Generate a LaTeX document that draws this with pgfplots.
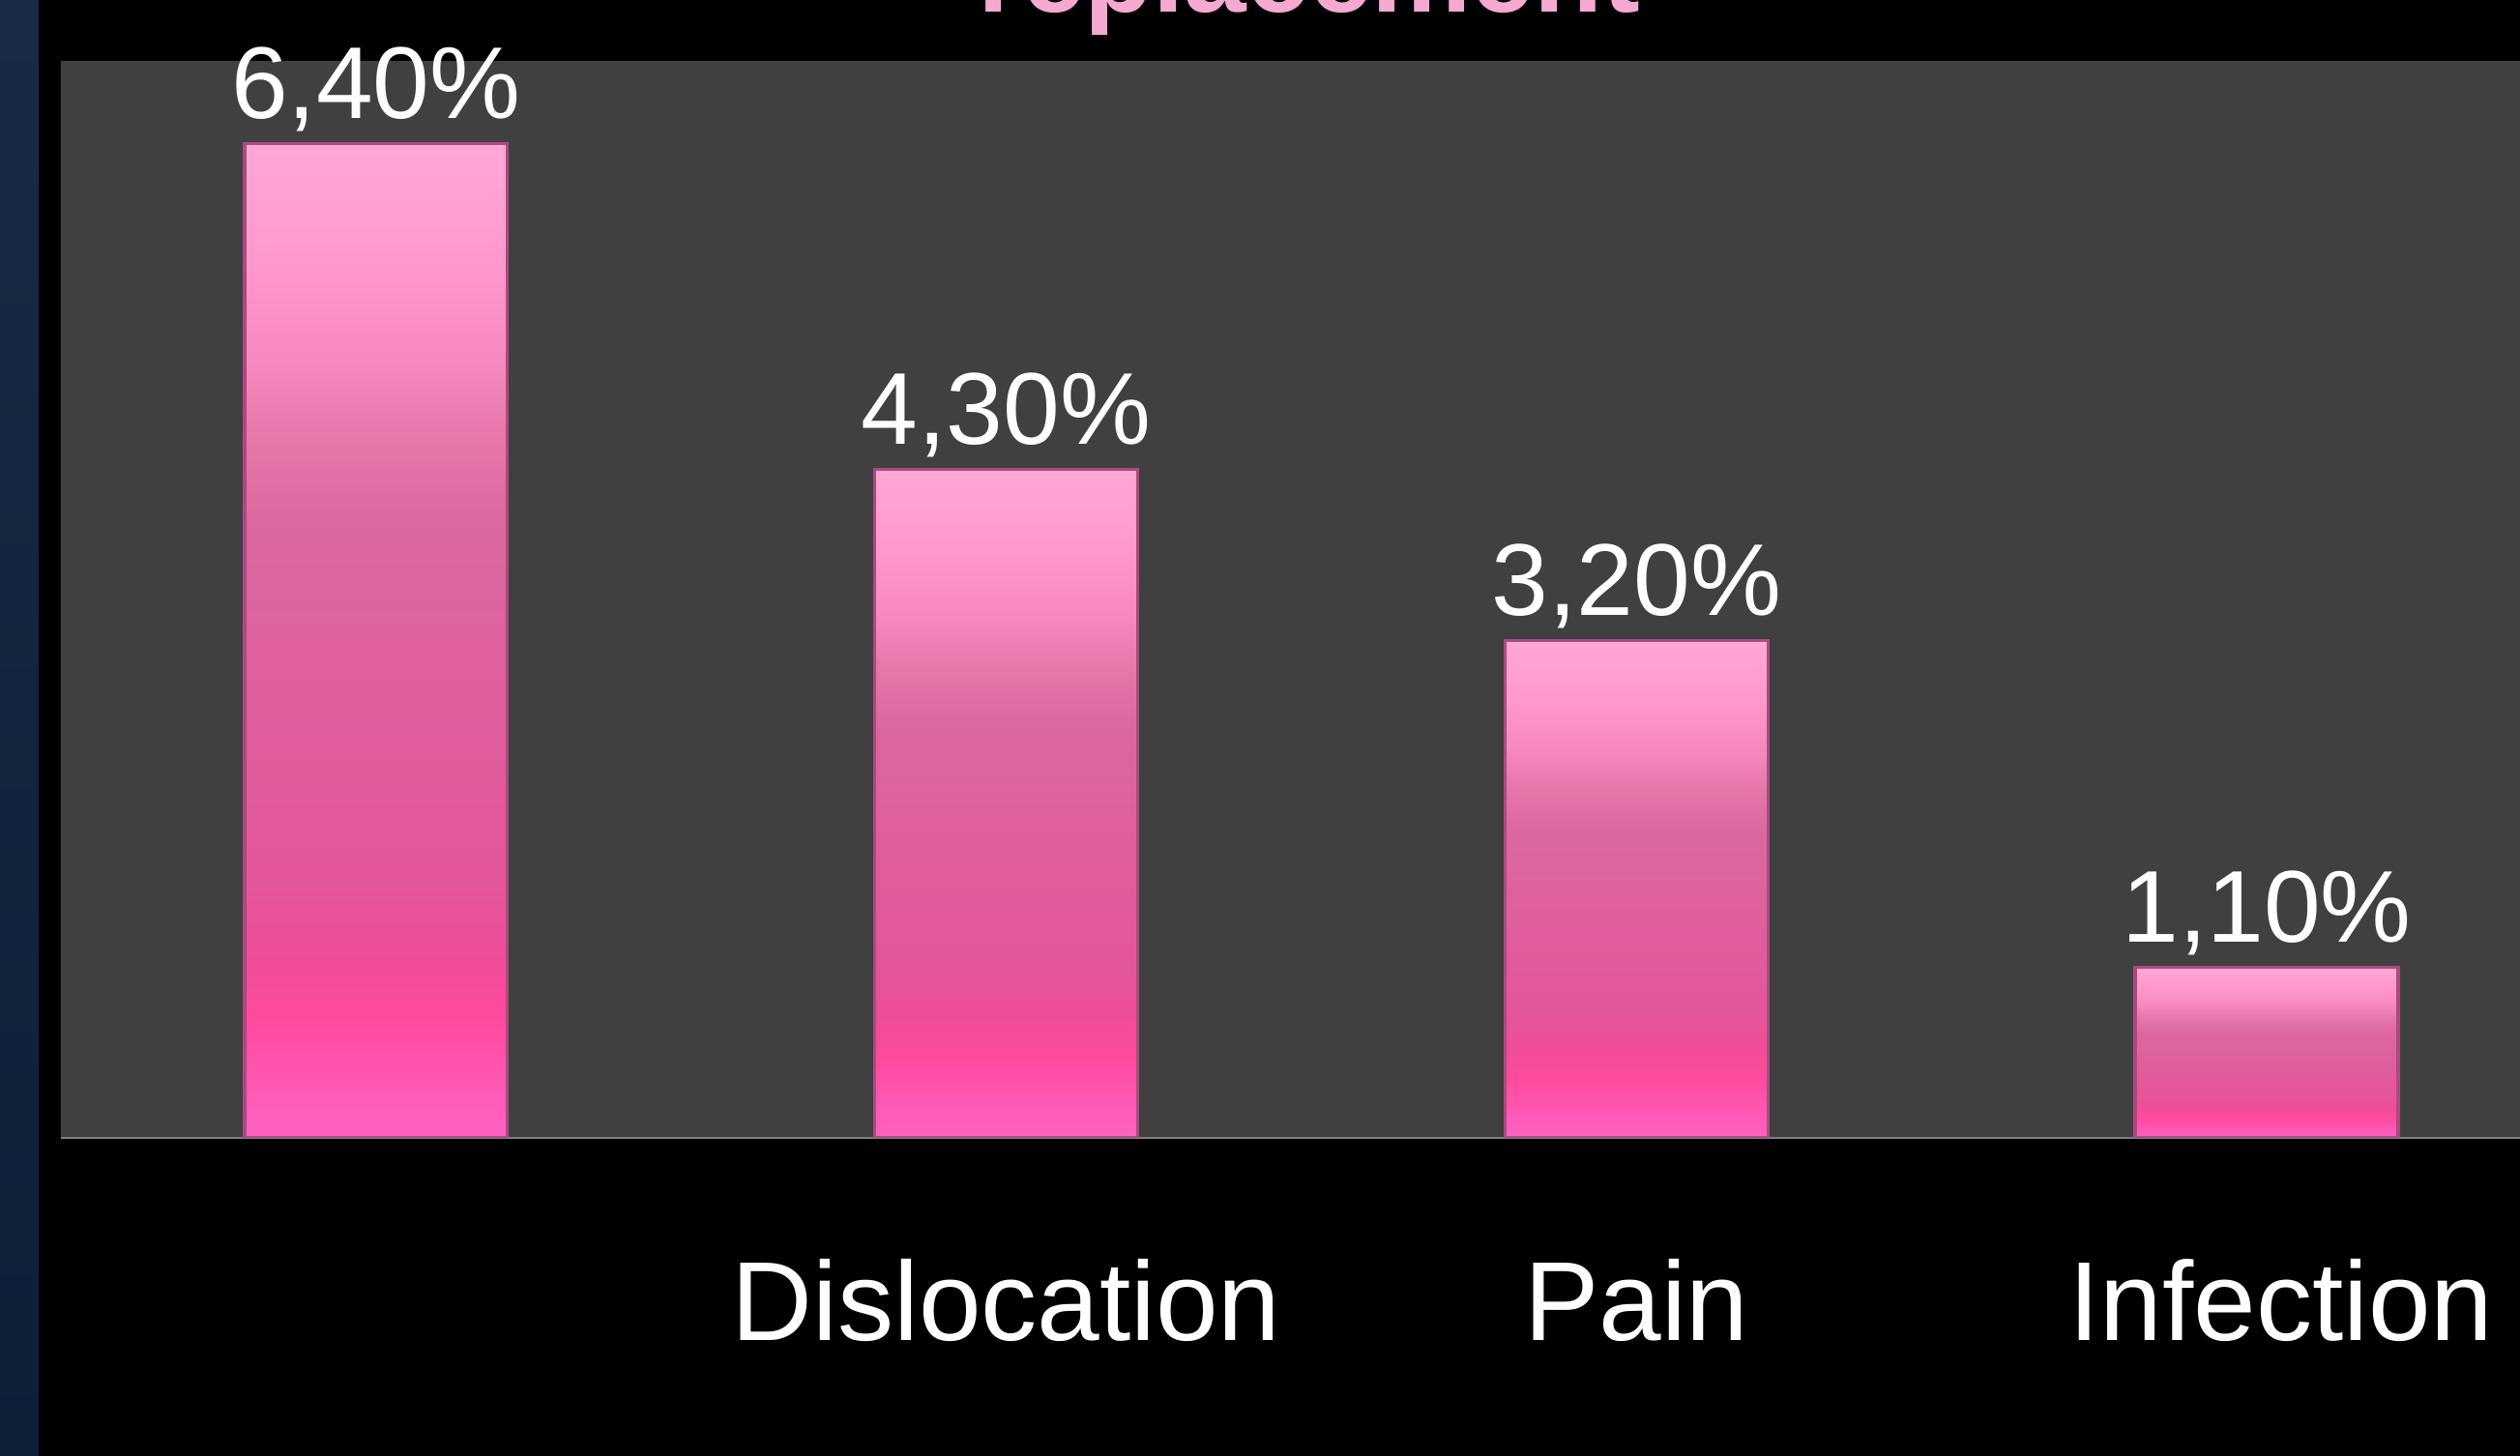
\documentclass[border=0pt]{standalone}
\usepackage{pgfplots}
\pgfplotsset{compat=1.18}
\usepackage{fontspec}
\setmainfont{Liberation Sans}
\definecolor{plotgray}{RGB}{64,64,64}
\definecolor{axisgray}{RGB}{128,128,128}
\definecolor{navytop}{RGB}{27,42,68}
\definecolor{navybot}{RGB}{15,30,55}
\definecolor{titlepink}{RGB}{245,168,208}
\definecolor{baredge}{RGB}{170,75,128}
\definecolor{c0}{RGB}{255,98,194}
\definecolor{c1}{RGB}{255,88,180}
\definecolor{c2}{RGB}{255,74,158}
\definecolor{c3}{RGB}{239,76,152}
\definecolor{c4}{RGB}{227,86,154}
\definecolor{c5}{RGB}{223,94,156}
\definecolor{c6}{RGB}{220,104,160}
\definecolor{c7}{RGB}{232,120,172}
\definecolor{c8}{RGB}{245,136,191}
\definecolor{c9}{RGB}{255,152,204}
\definecolor{c10}{RGB}{255,168,216}
\pgfdeclareverticalshading{barshade}{100bp}{%
color(0bp)=(c0); color(25bp)=(c0); color(27.75bp)=(c1); color(30.85bp)=(c2);
color(34bp)=(c3); color(38bp)=(c4); color(46.65bp)=(c5); color(56.25bp)=(c6);
color(60.5bp)=(c7); color(63.85bp)=(c8); color(69bp)=(c9); color(75bp)=(c10); color(100bp)=(c10)}
\tikzset{barstyle/.style={draw=baredge, line width=0.6bp, shade, shading=barshade}}
\begin{document}
\begin{tikzpicture}
\path[use as bounding box] (0,0) rectangle (469.08bp,271.08bp);
\clip (0,0) rectangle (469.08bp,271.08bp);
\fill[black] (0,0) rectangle (469.08bp,271.08bp);
\shade[top color=navytop, bottom color=navybot] (0,0) rectangle (7.2bp,271.08bp);
\node[anchor=base, text=titlepink, font=\fontsize{20.9bp}{24bp}\selectfont\bfseries, inner sep=0pt] at (243.72bp,268.74bp) {replacement};
\begin{axis}[
  at={(11.34bp,59.22bp)}, anchor=south west,
  scale only axis, width=469.24bp, height=200.52bp,
  xmin=-0.5, xmax=3.5, ymin=0, ymax=6.93,
  axis background/.style={fill=plotgray},
  axis x line=bottom, axis y line=none,
  axis line style={-, draw=axisgray, line width=0.54bp},
  xtick={0,1,2,3.023}, xticklabels={,Dislocation,Pain,Infection},
  ytick=\empty, major tick length=0pt,
  xticklabel style={anchor=base, yshift=-37.8bp, text=white, font=\fontsize{20.9bp}{24bp}\selectfont, inner sep=0pt},
  ybar, bar width=0.417, bar shift=0pt,
  nodes near coords,
  point meta=explicit symbolic,
  nodes near coords style={anchor=base, yshift=4.68bp, text=white, font=\fontsize{19bp}{22bp}\selectfont, inner sep=0pt},
]
\addplot[barstyle] coordinates {(0,6.4) [6,40\%]};
\addplot[barstyle] coordinates {(1,4.3) [4,30\%]};
\addplot[barstyle] coordinates {(2,3.2) [3,20\%]};
\addplot[barstyle] coordinates {(3,1.1) [1,10\%]};
\end{axis}
\end{tikzpicture}
\end{document}
